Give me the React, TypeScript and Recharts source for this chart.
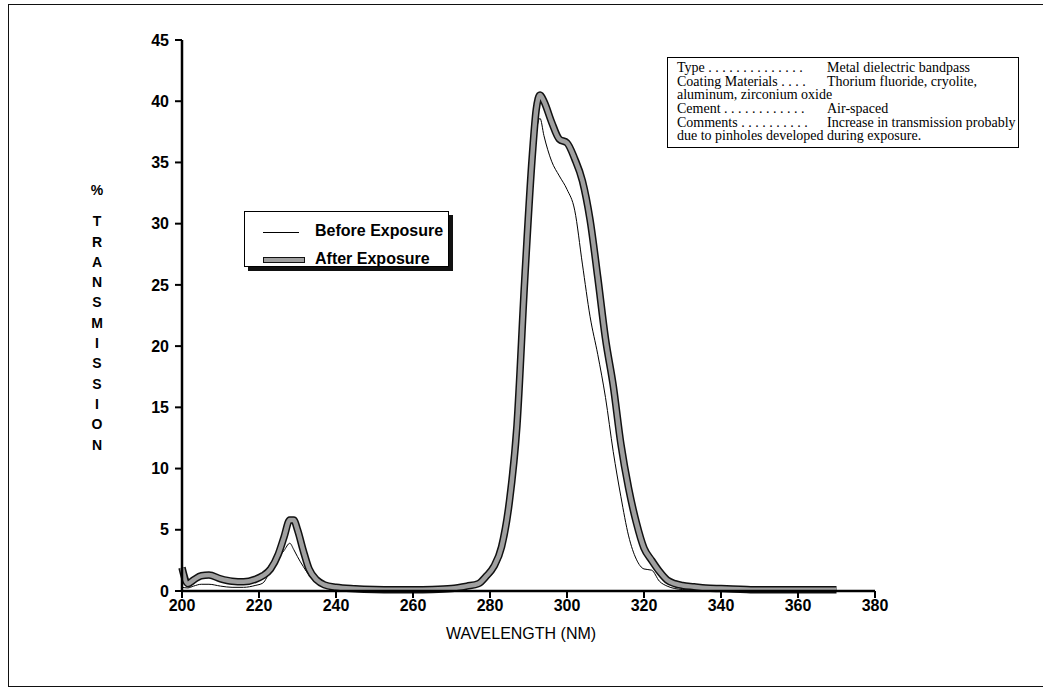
import { LineChart, Line, XAxis, YAxis } from 'recharts';

const wavelengths = [
  200, 201.5, 203, 205, 207, 210, 213, 216, 219, 221, 223, 225, 226.5, 228, 229, 230, 231.5, 233, 235, 237,
  240, 245, 250, 255, 260, 265, 270, 274, 277, 279, 281, 283, 285, 287, 289, 291, 292, 293, 294, 296, 298,
  300, 302, 304, 306, 308, 310, 312, 314, 316, 318, 320, 322, 324, 326, 328, 330, 333, 336, 340, 345, 350,
  355, 360, 365, 370,
];

const beforeExposure = [
  0.3, 0.25, 0.4, 0.55, 0.55, 0.4, 0.3, 0.3, 0.45, 0.65, 1.7, 2.7, 3.3, 3.9, 3.4, 2.8, 2.0, 1.3, 0.7, 0.45,
  0.25, 0.15, 0.1, 0.08, 0.08, 0.1, 0.15, 0.3, 0.45, 0.9, 1.6, 3.0, 6.6, 12.8, 24.5, 34.5, 37.5, 38.6, 37.2,
  35.1, 33.9, 32.8, 31.1, 26.7, 22.4, 19.3, 15.8, 11.4, 7.7, 4.5, 2.6, 1.8, 1.7, 0.8, 0.4, 0.2, 0.12, 0.08,
  0.05, 0.03, 0.02, 0.02, 0.02, 0.02, 0.02, 0.02,
];

const afterExposure = [
  1.9, 0.6, 0.9, 1.25, 1.3, 1.0, 0.8, 0.75, 0.95, 1.25, 1.8, 3.0, 4.4, 5.8, 5.8, 5.0, 3.3, 1.8, 0.9, 0.5,
  0.3, 0.18, 0.12, 0.1, 0.1, 0.12, 0.2, 0.4, 0.6, 1.2, 2.0, 3.6, 7.2, 13.5, 25.3, 35.6, 39.3, 40.5, 40.0,
  38.3, 36.9, 36.6, 35.3, 33.5, 30.3, 25.6, 20.6, 16.8, 12.0, 8.4, 5.6, 3.5, 2.5, 1.6, 0.9, 0.6, 0.45, 0.35,
  0.25, 0.2, 0.15, 0.1, 0.1, 0.1, 0.1, 0.1,
];

const xTicks = [200, 220, 240, 260, 280, 300, 320, 340, 360, 380];
const yTicks = [0, 5, 10, 15, 20, 25, 30, 35, 40, 45];
const yLabel = ['T', 'R', 'A', 'N', 'S', 'M', 'I', 'S', 'S', 'I', 'O', 'N'];

const specRows = [
  { label: 'Type . . . . . . . . . . . . . .', value: 'Metal dielectric bandpass' },
  { label: 'Coating Materials . . . .', value: 'Thorium fluoride, cryolite,' },
  { label: 'aluminum, zirconium oxide', value: '' },
  { label: 'Cement . . . . . . . . . . . .', value: 'Air-spaced' },
  { label: 'Comments . . . . . . . . . .', value: 'Increase in transmission probably' },
  { label: 'due to pinholes developed during exposure.', value: '' },
];

const data = wavelengths.map((w, i) => ({ w, before: beforeExposure[i], after: afterExposure[i] }));

const sans = '"Liberation Sans", Arial, sans-serif';
const serif = '"Liberation Serif", "Times New Roman", serif';

export default function App() {
  return (
    <div style={{ position: 'absolute', left: 0, top: 0, width: 1046, height: 696, background: '#fff', fontFamily: sans }}>
      <div
        style={{
          position: 'absolute', left: 8, top: 4, width: 1034, height: 681,
          borderLeft: '1.5px solid #111', borderTop: '1.5px solid #111', borderBottom: '1.5px solid #111',
        }}
      />
      <LineChart
        width={1046}
        height={696}
        data={data}
        margin={{ top: 40, right: 171, bottom: 65, left: 142 }}
        style={{ position: 'absolute', left: 0, top: 0 }}
      >
        <XAxis
          dataKey="w"
          type="number"
          domain={[200, 380]}
          ticks={xTicks}
          height={40}
          axisLine={{ stroke: '#000', strokeWidth: 2.5 }}
          tickLine={{ stroke: '#000', strokeWidth: 2 }}
          tickSize={7}
          tick={{ fill: '#000', fontSize: 16, fontWeight: 'bold', fontFamily: sans }}
        />
        <YAxis
          domain={[0, 45]}
          ticks={yTicks}
          width={40}
          axisLine={{ stroke: '#000', strokeWidth: 2.5 }}
          tickLine={{ stroke: '#000', strokeWidth: 2 }}
          tickSize={7}
          tickMargin={6}
          tick={{ fill: '#000', fontSize: 16, fontWeight: 'bold', fontFamily: sans }}
        />
        <Line dataKey="before" type="monotone" stroke="#000" strokeWidth={1} dot={false} isAnimationActive={false} />
        <Line dataKey="after" type="monotone" stroke="#111" strokeWidth={7.5} dot={false} isAnimationActive={false} />
        <Line dataKey="after" type="monotone" stroke="#a0a0a0" strokeWidth={4.5} dot={false} isAnimationActive={false} />
      </LineChart>

      <div style={{ position: 'absolute', left: 84, top: 180, width: 26, textAlign: 'center', fontSize: 14, fontWeight: 'bold', lineHeight: '20.3px' }}>
        <div style={{ marginBottom: 11 }}>%</div>
        {yLabel.map((c, i) => (
          <div key={i}>{c}</div>
        ))}
      </div>

      <div style={{ position: 'absolute', left: 421, top: 625, width: 200, textAlign: 'center', fontSize: 16 }}>
        WAVELENGTH (NM)
      </div>

      <div
        style={{
          position: 'absolute', left: 244, top: 211, width: 205, height: 56, border: '1px solid #000',
          boxShadow: '4px 4px 0 #111', background: '#fff', boxSizing: 'border-box',
        }}
      >
        <div style={{ position: 'absolute', left: 18, top: 20, width: 36, borderTop: '1px solid #000' }} />
        <div style={{ position: 'absolute', left: 70, top: 10, fontSize: 16, fontWeight: 'bold', whiteSpace: 'nowrap' }}>Before Exposure</div>
        <div style={{ position: 'absolute', left: 18, top: 45, width: 40, height: 4, background: '#a0a0a0', border: '1px solid #111' }} />
        <div style={{ position: 'absolute', left: 70, top: 38, fontSize: 16, fontWeight: 'bold', whiteSpace: 'nowrap' }}>After Exposure</div>
      </div>

      <div
        style={{
          position: 'absolute', left: 667, top: 57, width: 352, height: 91, border: '1.5px solid #000',
          boxSizing: 'border-box', fontFamily: serif, fontSize: 14, lineHeight: '13.7px', padding: '3px 0 0 9px',
        }}
      >
        {specRows.map((r, i) => (
          <div key={i} style={{ position: 'relative', whiteSpace: 'nowrap', height: 13.7 }}>
            <span>{r.label}</span>
            {r.value && <span style={{ position: 'absolute', left: 150 }}>{r.value}</span>}
          </div>
        ))}
      </div>
    </div>
  );
}
